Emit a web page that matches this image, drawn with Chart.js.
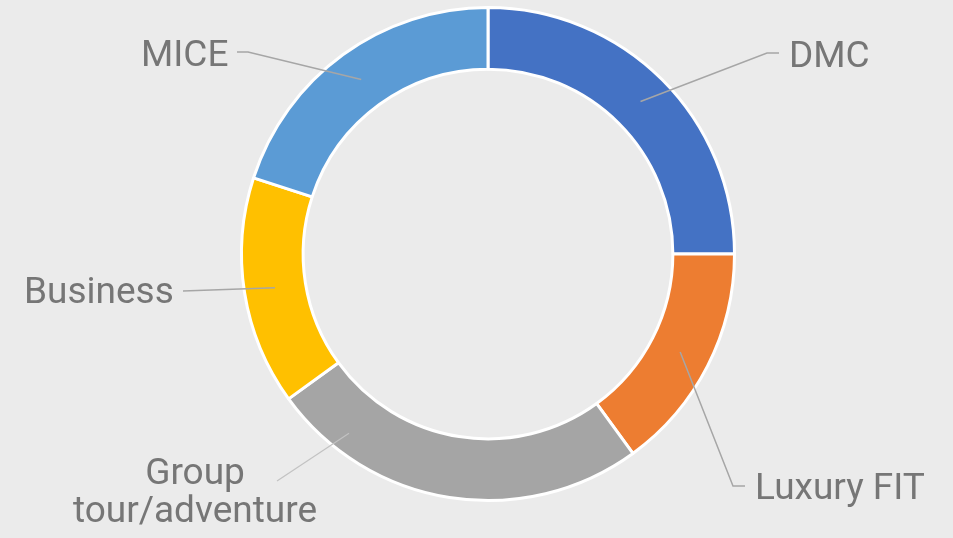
<!DOCTYPE html>
<html>
<head>
<meta charset="utf-8">
<script src="https://cdn.jsdelivr.net/npm/chart.js@4/dist/chart.umd.min.js"></script>
<style>
  html, body { margin: 0; padding: 0; background: #ebebeb; }
  #wrap { width: 953px; height: 538px; position: relative; }
</style>
</head>
<body>
<div id="wrap"><canvas id="donut"></canvas></div>
<script>
const segments = ['DMC', 'Luxury FIT', 'Group tour/adventure', 'Business', 'MICE'];
const shares = [25, 15, 25, 15, 20];
const colors = ['#4472c4', '#ed7d31', '#a5a5a5', '#ffc000', '#5b9bd5'];

// label layout: where the text sits and the bend of each leader line
const labelLayout = [
  { text: ['DMC'], x: 789, y: 67, align: 'left', elbow: [767, 53], end: [779, 53] },
  { text: ['Luxury FIT'], x: 755, y: 499, align: 'left', elbow: [733, 486], end: [745, 486] },
  { text: ['Group', 'tour/adventure'], x: 195, y: 484, align: 'center', elbow: null, end: [277, 481], at: 0.82, rf: 0.68, line: '#c2c2c2', lw: 1.2 },
  { text: ['Business'], x: 24, y: 303, align: 'left', elbow: null, end: [183, 291] },
  { text: ['MICE'], x: 141, y: 66, align: 'left', elbow: [248, 52], end: [237, 52] }
];

const leaderLabels = {
  id: 'leaderLabels',
  afterDatasetsDraw(chart) {
    const ctx = chart.ctx;
    const arcs = chart.getDatasetMeta(0).data;
    ctx.save();
    arcs.forEach((arc, i) => {
      const cfg = labelLayout[i];
      const p = arc.getProps(['x', 'y', 'startAngle', 'endAngle', 'innerRadius', 'outerRadius'], true);
      const t = cfg.at ?? 0.5;
      const a = p.startAngle + (p.endAngle - p.startAngle) * t;
      const r = p.innerRadius + (p.outerRadius - p.innerRadius) * (cfg.rf ?? 0.5);
      const sx = p.x + Math.cos(a) * r;
      const sy = p.y + Math.sin(a) * r;
      ctx.strokeStyle = cfg.line || '#a6a6a6';
      ctx.lineWidth = cfg.lw || 1.5;
      ctx.beginPath();
      ctx.moveTo(sx, sy);
      if (cfg.elbow) ctx.lineTo(cfg.elbow[0], cfg.elbow[1]);
      ctx.lineTo(cfg.end[0], cfg.end[1]);
      ctx.stroke();

      ctx.fillStyle = '#767676';
      ctx.font = '37px Roboto';
      ctx.textAlign = cfg.align;
      ctx.textBaseline = 'alphabetic';
      cfg.text.forEach((line, k) => ctx.fillText(line, cfg.x, cfg.y + k * 38));
    });
    ctx.restore();
  }
};

new Chart(document.getElementById('donut'), {
  type: 'doughnut',
  data: {
    labels: segments,
    datasets: [{ data: shares, backgroundColor: colors, borderColor: '#ffffff', borderWidth: 3, hoverOffset: 0 }]
  },
  options: {
    responsive: true,
    maintainAspectRatio: false,
    animation: false,
    cutout: '75%',
    layout: { padding: { top: 6, bottom: 36, left: 240, right: 217 } },
    plugins: { legend: { display: false }, tooltip: { enabled: false } }
  },
  plugins: [leaderLabels]
});
</script>
</body>
</html>
